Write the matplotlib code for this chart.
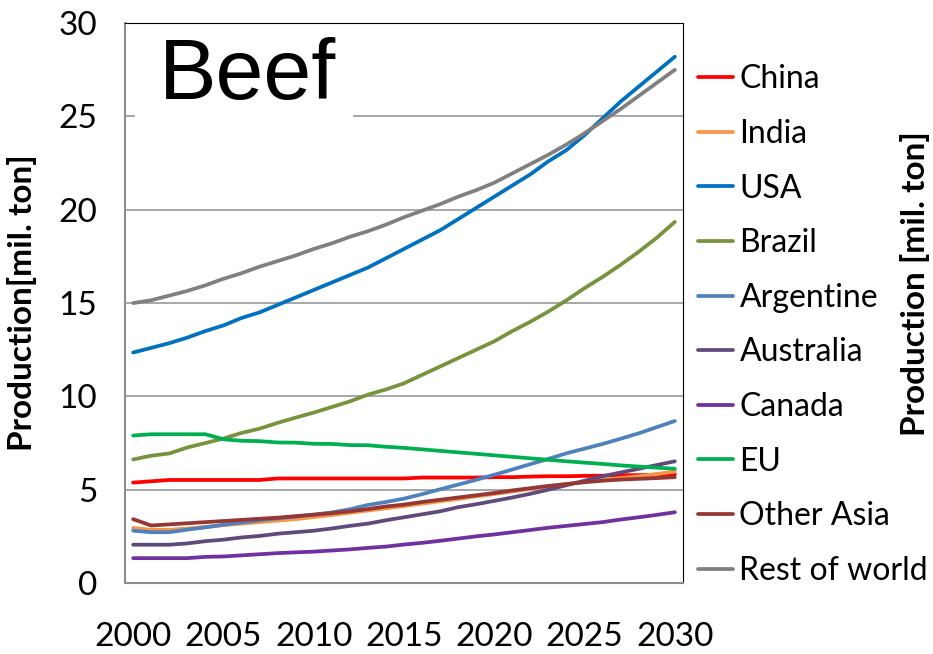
import numpy as np
import matplotlib
matplotlib.use('Agg')
import matplotlib.pyplot as plt
from matplotlib.patches import Rectangle

plt.rcParams['font.family'] = ['Lato', 'DejaVu Sans']

years = np.arange(2000, 2031)

china = [5.38, 5.45, 5.52, 5.52, 5.52, 5.52, 5.52, 5.52, 5.6, 5.6, 5.6, 5.6, 5.6, 5.6, 5.6, 5.6,
         5.65, 5.65, 5.65, 5.65, 5.67, 5.67, 5.7, 5.72, 5.72, 5.74, 5.75, 5.77, 5.78, 5.8, 5.82]
india = [2.95, 2.85, 2.85, 2.92, 3.0, 3.1, 3.18, 3.26, 3.34, 3.42, 3.53, 3.64, 3.76, 3.88, 4.0, 4.12,
         4.25, 4.38, 4.5, 4.64, 4.77, 4.9, 5.04, 5.18, 5.3, 5.42, 5.52, 5.62, 5.72, 5.84, 5.97]
usa = [12.35, 12.6, 12.85, 13.15, 13.5, 13.8, 14.2, 14.5, 14.9, 15.3, 15.7, 16.1, 16.5, 16.9, 17.4, 17.9,
       18.4, 18.9, 19.5, 20.1, 20.7, 21.3, 21.9, 22.6, 23.2, 24.0, 24.9, 25.8, 26.6, 27.4, 28.2]
brazil = [6.62, 6.82, 6.94, 7.26, 7.5, 7.74, 8.04, 8.27, 8.58, 8.86, 9.13, 9.43, 9.73, 10.09, 10.37, 10.7,
          11.15, 11.6, 12.05, 12.5, 12.95, 13.5, 14.0, 14.55, 15.15, 15.8, 16.4, 17.05, 17.75, 18.5, 19.35]
argentine = [2.8, 2.72, 2.72, 2.86, 2.98, 3.12, 3.24, 3.36, 3.46, 3.56, 3.66, 3.78, 3.95, 4.18, 4.34, 4.52,
             4.76, 5.02, 5.27, 5.53, 5.8, 6.08, 6.37, 6.65, 6.95, 7.2, 7.45, 7.73, 8.02, 8.35, 8.68]
australia = [2.05, 2.05, 2.05, 2.12, 2.24, 2.32, 2.44, 2.52, 2.64, 2.72, 2.8, 2.92, 3.06, 3.18, 3.36, 3.52,
             3.68, 3.84, 4.06, 4.22, 4.4, 4.58, 4.78, 5.0, 5.24, 5.48, 5.72, 5.92, 6.12, 6.32, 6.52]
canada = [1.33, 1.33, 1.33, 1.33, 1.4, 1.42, 1.48, 1.54, 1.6, 1.64, 1.68, 1.74, 1.8, 1.88, 1.95, 2.06,
          2.15, 2.26, 2.38, 2.5, 2.6, 2.72, 2.84, 2.96, 3.06, 3.16, 3.26, 3.4, 3.52, 3.65, 3.79]
eu = [7.9, 7.97, 7.97, 7.97, 7.97, 7.7, 7.62, 7.6, 7.53, 7.52, 7.46, 7.45, 7.39, 7.38, 7.3, 7.24,
      7.16, 7.08, 7.0, 6.92, 6.84, 6.76, 6.68, 6.6, 6.52, 6.45, 6.38, 6.3, 6.24, 6.18, 6.12]
other_asia = [3.42, 3.08, 3.14, 3.2, 3.26, 3.32, 3.38, 3.44, 3.5, 3.58, 3.66, 3.74, 3.84, 3.96, 4.1, 4.2,
              4.34, 4.46, 4.58, 4.7, 4.82, 4.96, 5.08, 5.2, 5.3, 5.4, 5.48, 5.54, 5.58, 5.62, 5.67]
rest_world = [15.0, 15.15, 15.4, 15.65, 15.95, 16.3, 16.6, 16.95, 17.25, 17.55, 17.9, 18.2, 18.55, 18.85, 19.2, 19.6,
              19.95, 20.3, 20.7, 21.05, 21.45, 21.95, 22.45, 22.95, 23.5, 24.1, 24.75, 25.4, 26.1, 26.8, 27.5]

names = ['China', 'India', 'USA', 'Brazil', 'Argentine', 'Australia', 'Canada', 'EU', 'Other Asia', 'Rest of world']
series = [china, india, usa, brazil, argentine, australia, canada, eu, other_asia, rest_world]
colors = ['#FF0000', '#F79646', '#0070C0', '#77933C', '#4F81BD', '#604A7B', '#7030A0', '#00B050', '#953735', '#808080']

fig = plt.figure(figsize=(9.33, 6.54), dpi=100)
ax = fig.add_axes([0.134, 0.1086, 0.598, 0.856])

for name, vals, c in zip(names, series, colors):
    ax.plot(years, vals, color=c, lw=2.7, label=name, solid_capstyle='round', zorder=3)

ax.set_xlim(1999.55, 2030.45)
ax.set_ylim(0, 30)
ax.set_xticks([2000, 2005, 2010, 2015, 2020, 2025, 2030])
ax.set_yticks([0, 5, 10, 15, 20, 25, 30])
ax.tick_params(axis='x', length=0, pad=28, labelsize=24)
ax.tick_params(axis='y', length=0, pad=20, labelsize=24)

for g in [5, 10, 15, 20, 25]:
    ax.axhline(g, color='#A0A0A0', lw=1.3, zorder=1)

ax.spines['left'].set_color('#8C8C8C')
ax.spines['bottom'].set_color('#8C8C8C')
ax.spines['left'].set_linewidth(1.5)
ax.spines['bottom'].set_linewidth(1.5)
ax.spines['top'].set_color('black')
ax.spines['right'].set_color('black')

# white box behind the title
ax.add_patch(Rectangle((0.018, 0.826), 0.39, 0.174, transform=ax.transAxes,
                       facecolor='white', edgecolor='none', zorder=2))
ax.text(0.06, 0.864, 'Beef', transform=ax.transAxes, fontsize=62,
        family='Liberation Sans', ha='left', va='baseline', zorder=4)

fig.text(0.024, 0.537, 'Production[mil. ton]', rotation=90, fontsize=24,
         fontweight='bold', ha='center', va='center')
fig.text(0.981, 0.566, 'Production [mil. ton]', rotation=90, fontsize=24,
         fontweight='bold', ha='center', va='center')

fig.legend(loc='center left', bbox_to_anchor=(0.748, 0.503), frameon=False,
           fontsize=23, handlelength=1.1, handletextpad=0.2, labelspacing=0.77,
           borderpad=0, borderaxespad=0)

fig.savefig('out.png', dpi=100)
